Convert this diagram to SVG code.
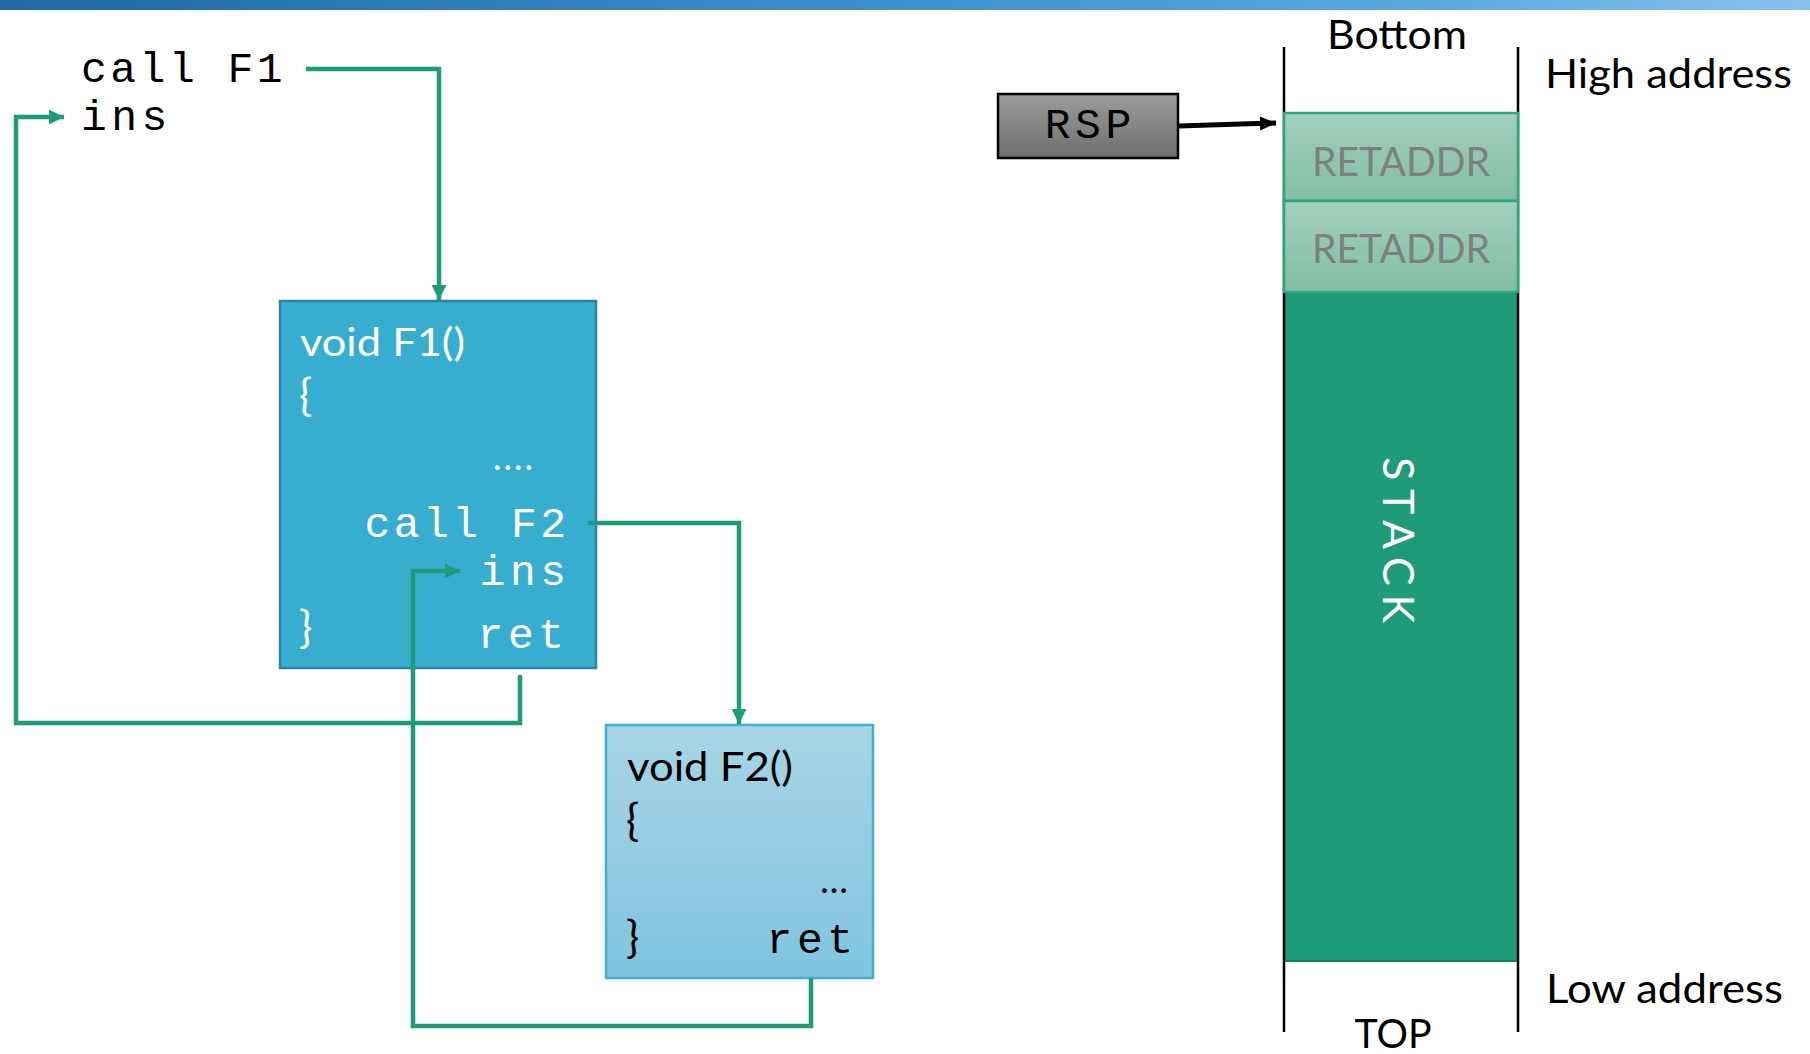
<svg xmlns="http://www.w3.org/2000/svg" width="1810" height="1054" viewBox="0 0 1810 1054">
<defs>
<linearGradient id="topbar" x1="0" y1="0" x2="1" y2="0">
<stop offset="0" stop-color="#1F69A4"/>
<stop offset="0.5" stop-color="#4090CB"/>
<stop offset="0.8" stop-color="#5CAAE2"/>
<stop offset="1" stop-color="#88C2EC"/>
</linearGradient>
<linearGradient id="f2fill" x1="0" y1="0" x2="0" y2="1">
<stop offset="0" stop-color="#A8D5E6"/>
<stop offset="1" stop-color="#80C4DE"/>
</linearGradient>
<linearGradient id="retfill" x1="0" y1="0" x2="0" y2="1">
<stop offset="0" stop-color="#A2D0BE"/>
<stop offset="1" stop-color="#80BEA5"/>
</linearGradient>
<linearGradient id="rspfill" x1="0" y1="0" x2="0" y2="1">
<stop offset="0" stop-color="#9C9C9C"/>
<stop offset="1" stop-color="#6E6E6E"/>
</linearGradient>
<marker id="ga" markerUnits="userSpaceOnUse" markerWidth="16" markerHeight="16" refX="15" refY="7.5" orient="auto">
<path d="M0,0 L15,7.5 L0,15 z" fill="#1E9C7A"/>
</marker>
<marker id="ka" markerUnits="userSpaceOnUse" markerWidth="18" markerHeight="16" refX="16" refY="7" orient="auto">
<path d="M0,0 L16,7 L0,14 z" fill="#000"/>
</marker>
</defs>
<style>
.mono{font-family:"Liberation Mono","Courier New",monospace;font-size:43px}
.cal{font-family:Lato,"Open Sans",sans-serif}
.brace{font-family:Lato,"Open Sans",sans-serif;font-size:44px}
.conn{fill:none;stroke:#1E9C7A;stroke-width:4.5;marker-end:url(#ga)}
.ret{font-family:Lato,"Open Sans",sans-serif;font-size:40px;fill:#7F7F7F}
.lbl{font-family:Lato,"Open Sans",sans-serif;font-size:40px;fill:#000}
</style>
<rect x="0" y="0" width="1810" height="10" fill="url(#topbar)"/>

<g id="caller">
<text class="mono" x="81" y="82" fill="#000" textLength="201.6" lengthAdjust="spacing">call F1</text>
<text class="mono" x="81" y="130" fill="#000" textLength="86.4" lengthAdjust="spacing">ins</text>
</g>

<g id="F1">
<rect x="280" y="301" width="316" height="367" fill="#37AECF" stroke="#2B83A0" stroke-width="2.5"/>
<text class="cal" x="300" y="356" font-size="39" fill="#fff" textLength="165" lengthAdjust="spacingAndGlyphs">void F1()</text>
<text class="brace" x="299" y="411" fill="#fff">{</text>
<text class="cal" x="493" y="470" font-size="36" fill="#fff" textLength="40" lengthAdjust="spacing">....</text>
<text class="mono" x="566" y="537" fill="#fff" text-anchor="end" textLength="201.6" lengthAdjust="spacing">call F2</text>
<text class="mono" x="566" y="585" fill="#fff" text-anchor="end" textLength="86.4" lengthAdjust="spacing">ins</text>
<text class="brace" x="299" y="643" fill="#fff">}</text>
<text class="mono" x="564" y="648" fill="#fff" text-anchor="end" textLength="86.4" lengthAdjust="spacing">ret</text>
</g>

<g id="F2">
<rect x="606" y="725" width="267" height="253" fill="url(#f2fill)" stroke="#3FB0D2" stroke-width="2.5"/>
<text class="cal" x="627" y="781" font-size="40" fill="#000" textLength="166" lengthAdjust="spacingAndGlyphs">void F2()</text>
<text class="brace" x="626" y="836" fill="#000">{</text>
<text class="cal" x="820" y="893" font-size="36" fill="#000" textLength="28" lengthAdjust="spacingAndGlyphs">…</text>
<text class="brace" x="626" y="953" fill="#000">}</text>
<text class="mono" x="853" y="953" fill="#000" text-anchor="end" textLength="86.4" lengthAdjust="spacing">ret</text>
</g>

<g id="RSP">
<rect x="998" y="94" width="180" height="64" fill="url(#rspfill)" stroke="#000" stroke-width="2.5"/>
<text class="mono" x="1088" y="138" fill="#000" text-anchor="middle" textLength="86.4" lengthAdjust="spacing">RSP</text>
</g>

<g id="stack">
<rect x="1284" y="292" width="234" height="670" fill="#1E9B79"/>
<line x1="1284" y1="961" x2="1518" y2="961" stroke="#177A5E" stroke-width="2"/>
<line x1="1284" y1="47" x2="1284" y2="1032" stroke="#000" stroke-width="2.5"/>
<line x1="1518" y1="47" x2="1518" y2="1032" stroke="#000" stroke-width="2.5"/>
<text class="cal" transform="translate(1383,457) rotate(90)" x="0" y="0" font-size="43" fill="#fff" textLength="166" lengthAdjust="spacing">STACK</text>
</g>

<g id="retaddr1">
<rect x="1284" y="113" width="234" height="88" fill="url(#retfill)" stroke="#2EA47F" stroke-width="2.5"/>
<text class="ret" x="1401" y="176" text-anchor="middle" textLength="178" lengthAdjust="spacingAndGlyphs">RETADDR</text>
</g>
<g id="retaddr2">
<rect x="1284" y="201" width="234" height="91" fill="url(#retfill)" stroke="#2EA47F" stroke-width="2.5"/>
<text class="ret" x="1401" y="263" text-anchor="middle" textLength="178" lengthAdjust="spacingAndGlyphs">RETADDR</text>
</g>

<g id="labels">
<text class="lbl" x="1397" y="49" font-size="40" text-anchor="middle" textLength="140" lengthAdjust="spacingAndGlyphs">Bottom</text>
<text class="lbl" x="1545" y="88" font-size="41" textLength="247" lengthAdjust="spacingAndGlyphs">High address</text>
<text class="lbl" x="1546" y="1003" font-size="41" textLength="237" lengthAdjust="spacingAndGlyphs">Low address</text>
<text class="lbl" x="1393" y="1048" font-size="41" text-anchor="middle" textLength="77" lengthAdjust="spacingAndGlyphs">TOP</text>
</g>

<g id="connectors">
<path class="conn" d="M306,69 H439 V300"/>
<path class="conn" d="M520,675 V723 H16 V117 H64"/>
<path class="conn" d="M588,523 H739 V724"/>
<path class="conn" d="M811,978 V1026 H413 V571 H460"/>
<path d="M1179,126 L1276,123" fill="none" stroke="#000" stroke-width="5" marker-end="url(#ka)"/>
</g>
</svg>
